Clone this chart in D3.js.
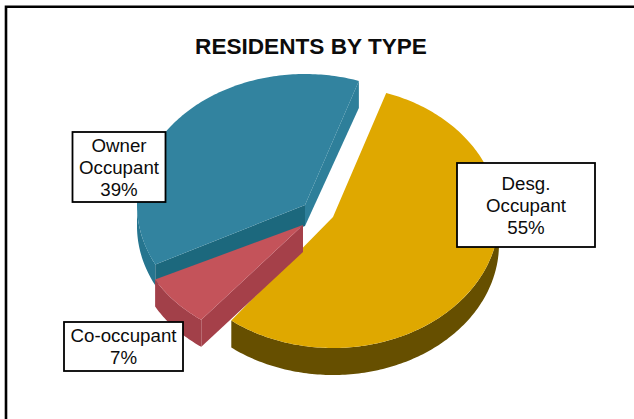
<!DOCTYPE html>
<html>
<head>
<meta charset="utf-8">
<script src="https://cdn.jsdelivr.net/npm/d3@7"></script>
<style>
html, body { margin: 0; background: #fff; }
svg { display: block; }
text { font-family: "Liberation Sans", Arial, sans-serif; fill: #0c0c0c; }
</style>
</head>
<body>
<div id="canvas"></div>
<script>
const title = "RESIDENTS BY TYPE";
const categories = ["Desg. Occupant", "Co-occupant", "Owner Occupant"];
// slice sizes, the printed labels add up to 101
const shares = [55.3, 7, 37.7];
const labelLines = [["Desg.", "Occupant", "55%"], ["Co-occupant", "7%"], ["Owner", "Occupant", "39%"]];

const width = 634, height = 419;
const rx = [166, 166, 168], ry = [131, 120, 131];
const startDeg = 18.7;
const apex = [[333, 217], [303, 225], [305, 205]];
const depth = [27, 27, 21];
const topColor = ["#dfa800", "#c4525a", "#30839f"];
const rimColor = ["#665000", "#a23f49", "#25758f"];
const leftCut = [null, null, "#2f7f9a"];   // face along the slice's end edge
const rightCut = [null, "#a54049", "#1f687d"];
const boxes = [
    { x: 457, y: 163, w: 138, h: 84, base: 190 },
    { x: 64, y: 322, w: 119, h: 49, base: 342 },
    { x: 72.5, y: 132, w: 93, h: 70, base: 152 }
];

const svg = d3.select("#canvas").append("svg").attr("width", width).attr("height", height);

svg.append("path")
    .attr("d", d3.line()([[6, height], [6, 6.7], [width, 6.7]]))
    .attr("fill", "none").attr("stroke", "#000").attr("stroke-width", 2.6);

const defs = svg.append("defs");
defs.append("filter").attr("id", "soft").append("feGaussianBlur").attr("stdDeviation", 0.55);

const pie = d3.pie().sort(null)
    .startAngle(startDeg * Math.PI / 180)
    .endAngle((startDeg + 360) * Math.PI / 180);
const arcs = pie(shares);
const line = d3.line();

const onEdge = (i, a, dy = 0) => [
    apex[i][0] + rx[i] * Math.sin(a),
    apex[i][1] - ry[i] * Math.cos(a) + dy
];
const sweep = (i, a0, a1, dy = 0) => {
    const n = Math.max(2, Math.ceil((a1 - a0) * 60));
    return d3.range(n + 1).map(k => onEdge(i, a0 + (a1 - a0) * k / n, dy));
};

const g = svg.append("g").attr("filter", "url(#soft)");

// back to front: yellow, blue, red on top
[0, 2, 1].forEach(i => {
    const { startAngle: a0, endAngle: a1 } = arcs[i];
    const d = depth[i];
    const c = apex[i];

    // outer rim, only where the edge faces the viewer (lower half)
    [[Math.PI / 2, 3 * Math.PI / 2], [Math.PI / 2 + 2 * Math.PI, 3 * Math.PI / 2 + 2 * Math.PI]].forEach(([lo, hi]) => {
        const s = Math.max(a0, lo), e = Math.min(a1, hi);
        if (e <= s) return;
        const pts = sweep(i, s, e).concat(sweep(i, s, e, d).reverse());
        g.append("path").attr("d", line(pts) + "Z").attr("fill", rimColor[i]);
    });

    if (leftCut[i]) {
        const p = onEdge(i, a1);
        g.append("path")
            .attr("d", line([c, p, [p[0], p[1] + d + 6], [c[0], c[1] + d]]) + "Z")
            .attr("fill", leftCut[i]);
    }
    if (rightCut[i]) {
        const p = onEdge(i, a0);
        g.append("path")
            .attr("d", line([c, p, [p[0], p[1] + d], [c[0], c[1] + d]]) + "Z")
            .attr("fill", rightCut[i]);
    }

    g.append("path")
        .attr("d", line([c].concat(sweep(i, a0, a1))) + "Z")
        .attr("fill", topColor[i]);
});

svg.append("text")
    .attr("x", 311).attr("y", 54)
    .attr("text-anchor", "middle")
    .style("font-size", "22.6px").style("font-weight", "bold")
    .text(title);

const label = svg.selectAll("g.label").data(categories).enter().append("g").attr("class", "label");
label.append("rect")
    .attr("x", (d, i) => boxes[i].x).attr("y", (d, i) => boxes[i].y)
    .attr("width", (d, i) => boxes[i].w).attr("height", (d, i) => boxes[i].h)
    .attr("fill", "#fff").attr("stroke", "#000").attr("stroke-width", 1.8);
label.each(function (d, i) {
    d3.select(this).selectAll("text").data(labelLines[i]).enter().append("text")
        .attr("x", boxes[i].x + boxes[i].w / 2)
        .attr("y", (t, k) => boxes[i].base + k * 22)
        .attr("text-anchor", "middle")
        .style("font-size", "18.7px")
        .text(t => t);
});
</script>
</body>
</html>
